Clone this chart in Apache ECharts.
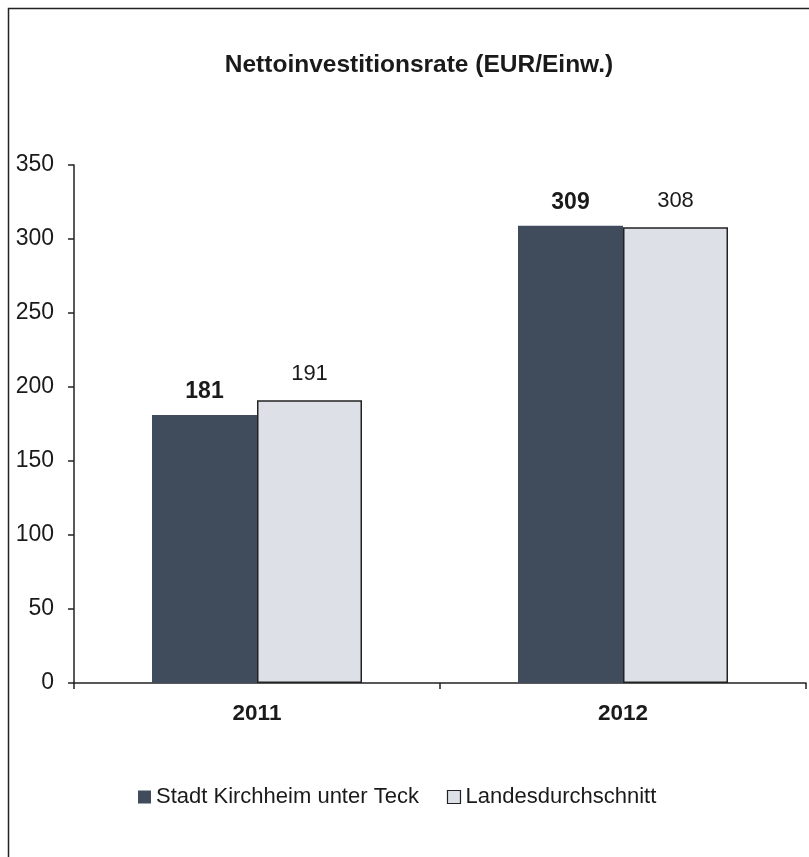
<!DOCTYPE html>
<html><head><meta charset="utf-8">
<script src="https://cdn.jsdelivr.net/npm/echarts@6/dist/echarts.min.js"></script>
<style>html,body{margin:0;padding:0;background:#fff}#c{width:809px;height:857px}</style>
</head><body><div id="c"></div>
<script>
const titleText = 'Nettoinvestitionsrate (EUR/Einw.)';
const categories = ['2011', '2012'];
const seriesNames = ['Stadt Kirchheim unter Teck', 'Landesdurchschnitt'];
const stadtValues = [181, 309];
const landValues = [191, 308];
const yTicks = { min: 0, max: 350, interval: 50 };

const FONT = '"Liberation Sans", Arial, sans-serif';
const chart = echarts.init(document.getElementById('c'), null, { renderer: 'canvas' });
chart.setOption({
  backgroundColor: '#fff',
  animation: false,
  graphic: [{
    type: 'rect', shape: { x: 8.5, y: 8.5, width: 820, height: 870 },
    style: { fill: 'none', stroke: '#222', lineWidth: 1.5 }, z: 100, silent: true
  }],
  title: {
    text: titleText, left: 414, textAlign: 'center', top: 48,
    textStyle: { fontFamily: FONT, fontSize: 24.5, fontWeight: 'bold', color: '#1a1a1a' }
  },
  legend: {
    top: 781, left: 133, itemWidth: 13, itemHeight: 13, itemGap: 28,
    icon: 'rect',
    textStyle: { fontFamily: FONT, fontSize: 22, color: '#1a1a1a' },
    data: [
      { name: seriesNames[0], itemStyle: { color: '#404c5c', borderWidth: 0 } },
      { name: seriesNames[1], itemStyle: { color: '#dde0e7', borderColor: '#222', borderWidth: 1.2 } }
    ]
  },
  grid: { left: 74, right: 3, top: 165, bottom: 174, containLabel: false },
  xAxis: {
    type: 'category', data: categories,
    axisLine: { lineStyle: { color: '#222', width: 1.5 } },
    axisTick: { show: true, length: 6, lineStyle: { color: '#222', width: 1.5 } },
    axisLabel: { margin: 19, fontFamily: FONT, fontSize: 22.5, fontWeight: 'bold', color: '#1a1a1a' }
  },
  yAxis: {
    type: 'value', min: yTicks.min, max: yTicks.max, interval: yTicks.interval,
    axisLine: { show: true, lineStyle: { color: '#222', width: 1.5 } },
    axisTick: { show: true, length: 6, lineStyle: { color: '#222', width: 1.5 } },
    splitLine: { show: false },
    axisLabel: { margin: 20, fontFamily: FONT, fontSize: 23, color: '#1a1a1a' }
  },
  series: [
    {
      name: seriesNames[0], type: 'bar', data: stadtValues, barWidth: 105, barGap: '0%',
      itemStyle: { color: '#404c5c' },
      label: { show: true, position: 'top', distance: 12, fontFamily: FONT, fontSize: 23, fontWeight: 'bold', color: '#1a1a1a' }
    },
    {
      name: seriesNames[1], type: 'bar', data: landValues, barWidth: 105,
      itemStyle: { color: '#dde0e7', borderColor: '#222', borderWidth: 1.5 },
      label: { show: true, position: 'top', distance: 15, fontFamily: FONT, fontSize: 22, color: '#1a1a1a' }
    }
  ]
});
</script></body></html>
